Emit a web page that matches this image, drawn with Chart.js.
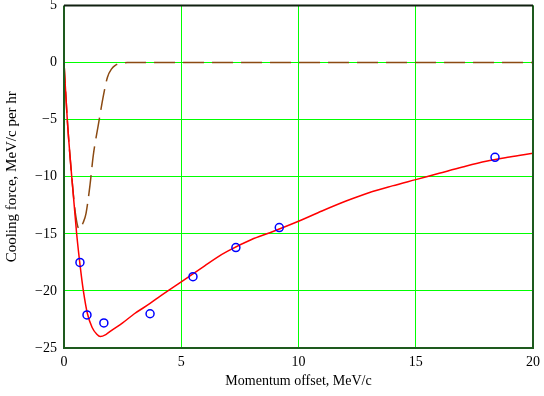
<!DOCTYPE html>
<html>
<head>
<meta charset="utf-8">
<script src="https://cdn.jsdelivr.net/npm/chart.js@4"></script>
<style>
  html, body { margin: 0; padding: 0; background: #fff; }
  #wrap { width: 544px; height: 396px; }
</style>
</head>
<body>
<div id="wrap"><canvas id="chart"></canvas></div>
<script>
// computed cooling force (solid red)
const calcX = [0, 0.14, 0.33, 0.54, 0.7, 0.82, 1.0, 1.2, 1.4, 1.55, 1.8, 2.0, 2.5, 3, 3.67, 4, 5, 6, 6.5, 7, 8, 8.78, 10, 11, 12, 13, 14, 15, 16, 17, 18, 19, 20];
const calcY = [0, -5, -10, -15, -18, -19.9, -22.0, -23.2, -23.8, -24.0, -23.8, -23.5, -22.8, -22.0, -21.1, -20.6, -19.2, -17.8, -17.1, -16.5, -15.5, -14.9, -13.9, -13.0, -12.15, -11.4, -10.8, -10.25, -9.7, -9.15, -8.65, -8.28, -7.95];

// second curve (dashed brown)
const dashX = [0, 0.14, 0.33, 0.5, 0.65, 0.82, 0.94, 1.11, 1.25, 1.46, 1.68, 1.85, 2.03, 2.2, 2.45, 2.7, 5, 10, 15, 20];
const dashY = [0, -5, -10, -13.4, -14.6, -14.0, -13.2, -10.7, -8.1, -5.5, -2.9, -1.3, -0.55, -0.22, -0.05, 0, 0, 0, 0, 0];

// measured points (blue circles)
const measX = [0.68, 0.98, 1.7, 3.67, 5.5, 7.33, 9.18, 18.38];
const measY = [-17.5, -22.1, -22.8, -22.0, -18.75, -16.2, -14.45, -8.3];

const xTicks = [0, 5, 10, 15, 20];
const yTicks = [5, 0, -5, -10, -15, -20, -25];

function pts(xs, ys) { return xs.map((x, i) => ({ x: x, y: ys[i] })); }

const serif = "'Liberation Serif', 'DejaVu Serif', serif";

const frame = {
  id: 'frame',
  afterDraw(chart) {
    const a = chart.chartArea, c = chart.ctx;
    c.save();
    c.lineWidth = 2;
    c.strokeStyle = '#1e5a1e';
    c.beginPath();
    c.moveTo(a.left, a.top); c.lineTo(a.left, a.bottom); c.lineTo(a.right, a.bottom); c.lineTo(a.right, a.top);
    c.stroke();
    c.strokeStyle = '#102010';
    c.beginPath(); c.moveTo(a.left, a.top); c.lineTo(a.right, a.top); c.stroke();
    c.restore();
  }
};

new Chart(document.getElementById('chart'), {
  type: 'scatter',
  data: {
    datasets: [
      { label: 'calc', data: pts(calcX, calcY), showLine: true, borderColor: '#ff0000', borderWidth: 1.5, pointRadius: 0, cubicInterpolationMode: 'monotone', order: 2 },
      { label: 'dash', data: pts(dashX, dashY), showLine: true, borderColor: '#8b4a12', borderWidth: 1.5, borderDash: [21, 8], pointRadius: 0, cubicInterpolationMode: 'monotone', order: 3 },
      { label: 'meas', data: pts(measX, measY), showLine: false, borderColor: '#0000ff', backgroundColor: 'rgba(0,0,0,0)', borderWidth: 1.5, pointRadius: 4, order: 1 }
    ]
  },
  options: {
    responsive: true,
    maintainAspectRatio: false,
    animation: false,
    layout: { padding: { top: 2, right: 11, left: 0, bottom: 0 } },
    plugins: { legend: { display: false }, tooltip: { enabled: false } },
    scales: {
      x: {
        type: 'linear', min: 0, max: 20,
        afterBuildTicks: s => { s.ticks = xTicks.map(v => ({ value: v })); },
        afterFit: s => { s.height = 48; s.paddingLeft = 0; s.paddingRight = 0; },
        grid: { color: '#00ff00', lineWidth: 1, drawTicks: false },
        border: { display: false },
        ticks: { color: '#000', font: { family: serif, size: 14 }, padding: 6, maxRotation: 0 },
        title: { display: true, text: 'Momentum offset, MeV/c', color: '#000', font: { family: serif, size: 14 }, padding: { top: 0, bottom: 6 } }
      },
      y: {
        type: 'linear', min: -25, max: 5,
        afterBuildTicks: s => { s.ticks = yTicks.map(v => ({ value: v })); },
        afterFit: s => { s.width = 64; s.paddingTop = 0; s.paddingBottom = 0; },
        grid: { color: '#00ff00', lineWidth: 1, drawTicks: false },
        border: { display: false },
        ticks: { color: '#000', font: { family: serif, size: 14 }, padding: 7, callback: v => String(v).replace('-', '\u2212') },
        title: { display: true, text: 'Cooling force, MeV/c per hr', color: '#000', font: { family: serif, size: 15 }, padding: { top: 3, bottom: 0 } }
      }
    }
  },
  plugins: [frame]
});
</script>
</body>
</html>
